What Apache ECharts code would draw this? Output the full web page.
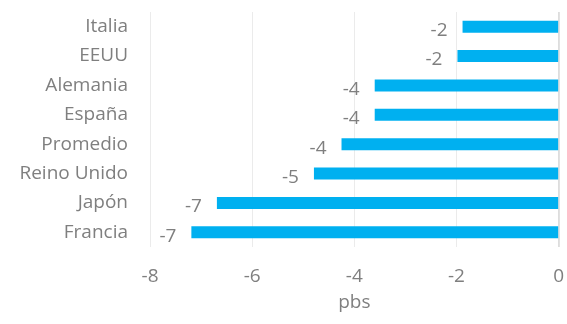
<!DOCTYPE html>
<html><head><meta charset="utf-8">
<script src="https://cdn.jsdelivr.net/npm/echarts@6/dist/echarts.min.js"></script>
<style>html,body{margin:0;padding:0;background:#fff}#c{width:567px;height:324px}</style>
</head><body><div id="c"></div>
<script>
const categories = ["Francia", "Japón", "Reino Unido", "Promedio", "España", "Alemania", "EEUU", "Italia"];
const values = [-7.19, -6.69, -4.79, -4.25, -3.6, -3.6, -1.98, -1.88];
const xTicks = { min: -8, max: 0, interval: 2 };
const axisName = "pbs";

const font = "Open Sans";
const grey = "#7f7f7f";
const fs = 19;
const chart = echarts.init(document.getElementById('c'));
chart.setOption({
  animation: false,
  grid: { left: 150, right: 8, top: 12, bottom: 77 },
  xAxis: {
    type: 'value', min: xTicks.min, max: xTicks.max, interval: xTicks.interval,
    name: axisName, nameLocation: 'middle', nameGap: 46,
    nameTextStyle: { color: grey, fontFamily: font, fontSize: fs },
    axisLine: { show: false }, axisTick: { show: false },
    axisLabel: { color: grey, fontFamily: font, fontSize: fs, margin: 20,
      formatter: v => v === 0 ? '0' : String(v) },
    splitLine: { lineStyle: { color: '#ebebeb', width: 1 } }
  },
  yAxis: {
    type: 'category', data: categories,
    axisLine: { show: false }, axisTick: { show: false },
    axisLabel: { color: grey, fontFamily: font, fontSize: fs, margin: 22 }
  },
  series: [{
    type: 'bar', data: values, barWidth: 12,
    itemStyle: { color: '#00B0F0' },
    label: { show: true, position: 'left', distance: 15, offset: [0, 4],
      color: grey, fontFamily: font, fontSize: fs,
      formatter: p => String(Math.round(p.value)) },
    markLine: { silent: true, symbol: 'none', label: { show: false },
      lineStyle: { color: '#d9d9d9', type: 'solid', width: 1.5 },
      data: [{ xAxis: 0 }] }
  }]
});
</script></body></html>
